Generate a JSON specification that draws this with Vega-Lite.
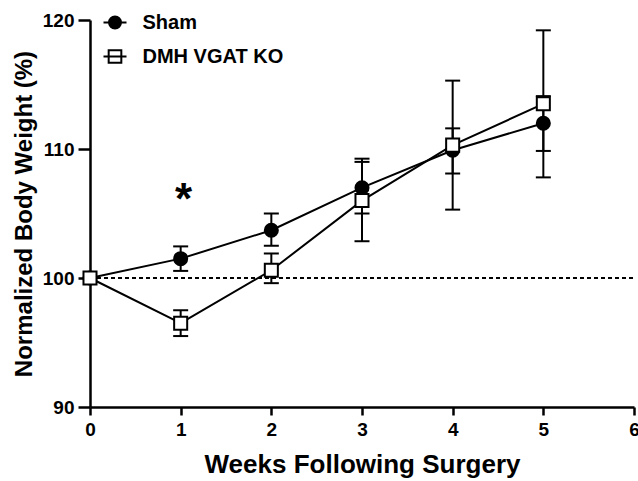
{
  "$schema": "https://vega.github.io/schema/vega-lite/v6.json",
  "width": 544,
  "height": 387,
  "autosize": {"type": "none"},
  "padding": {"left": 90, "top": 20, "right": 4, "bottom": 74},
  "background": "white",
  "config": {
    "view": {"stroke": null},
    "font": "Liberation Sans",
    "axis": {
      "domainColor": "black", "domainWidth": 2.5, "tickColor": "black", "tickWidth": 2.5,
      "labelColor": "black", "labelFont": "Liberation Sans", "labelFontWeight": "bold",
      "labelFontSize": 19, "titleFont": "Liberation Sans", "titleFontWeight": "bold", "titleColor": "black", "grid": false
    },
    "axisY": {"tickSize": 12, "labelPadding": 4, "titlePadding": 6, "titleFontSize": 24},
    "axisX": {"tickSize": 8, "labelPadding": 5, "titlePadding": 12, "titleFontSize": 26},
    "legend": {"labelFont": "Liberation Sans", "labelFontWeight": "bold", "labelFontSize": 20, "labelColor": "black"}
  },
  "data": {
    "values": [
      {"week": 0, "group": "Sham", "mean": 100, "lo": null, "hi": null},
      {"week": 1, "group": "Sham", "mean": 101.5, "lo": 100.55, "hi": 102.45},
      {"week": 2, "group": "Sham", "mean": 103.7, "lo": 102.5, "hi": 105.0},
      {"week": 3, "group": "Sham", "mean": 107.0, "lo": 105.0, "hi": 109.0},
      {"week": 4, "group": "Sham", "mean": 109.9, "lo": 108.1, "hi": 111.6},
      {"week": 5, "group": "Sham", "mean": 112.0, "lo": 109.85, "hi": 114.1},
      {"week": 0, "group": "DMH VGAT KO", "mean": 100, "lo": null, "hi": null},
      {"week": 1, "group": "DMH VGAT KO", "mean": 96.5, "lo": 95.5, "hi": 97.5},
      {"week": 2, "group": "DMH VGAT KO", "mean": 100.6, "lo": 99.6, "hi": 101.9},
      {"week": 3, "group": "DMH VGAT KO", "mean": 106.0, "lo": 102.85, "hi": 109.25},
      {"week": 4, "group": "DMH VGAT KO", "mean": 110.3, "lo": 105.3, "hi": 115.3},
      {"week": 5, "group": "DMH VGAT KO", "mean": 113.5, "lo": 107.8, "hi": 119.2}
    ]
  },
  "encoding": {
    "x": {"field": "week", "type": "quantitative",
      "scale": {"domain": [0, 6], "nice": false, "zero": false},
      "axis": {"values": [0, 1, 2, 3, 4, 5, 6], "title": "Weeks Following Surgery", "labelFlush": false}}
  },
  "layer": [
    {
      "mark": {"type": "rule", "color": "black", "strokeWidth": 1, "strokeDash": [4, 3]},
      "encoding": {"x": {"datum": 0}, "x2": {"datum": 6}, "y": {"datum": 100}}
    },
    {
      "transform": [{"filter": "datum.lo != null"}],
      "mark": {"type": "rule", "color": "black", "strokeWidth": 2},
      "encoding": {"y": {"field": "lo", "type": "quantitative"}, "y2": {"field": "hi"}}
    },
    {
      "transform": [{"filter": "datum.lo != null"}],
      "mark": {"type": "tick", "orient": "horizontal", "color": "black", "size": 15, "thickness": 2, "opacity": 1},
      "encoding": {"y": {"field": "lo", "type": "quantitative"}}
    },
    {
      "transform": [{"filter": "datum.hi != null"}],
      "mark": {"type": "tick", "orient": "horizontal", "color": "black", "size": 15, "thickness": 2, "opacity": 1},
      "encoding": {"y": {"field": "hi", "type": "quantitative"}}
    },
    {
      "mark": {"type": "line", "color": "black", "strokeWidth": 2},
      "encoding": {
        "y": {"field": "mean", "type": "quantitative",
          "scale": {"domain": [90, 120], "nice": false, "zero": false},
          "axis": {"values": [90, 100, 110, 120], "title": "Normalized Body Weight (%)"}},
        "detail": {"field": "group"}
      }
    },
    {
      "mark": {"type": "point", "filled": true, "stroke": "black", "strokeWidth": 2, "opacity": 1, "size": 170},
      "encoding": {
        "y": {"field": "mean", "type": "quantitative"},
        "shape": {"field": "group", "type": "nominal",
          "scale": {"domain": ["DMH VGAT KO", "Sham"], "range": ["square", "circle"]},
          "legend": null},
        "fill": {"field": "group", "type": "nominal",
          "scale": {"domain": ["Sham", "DMH VGAT KO"], "range": ["black", "white"]},
          "legend": {
            "title": null, "orient": "top-left", "offset": -10.5, "padding": 0,
            "symbolSize": 529, "symbolOffset": 22.5,
            "labelOffset": 15, "rowPadding": 11,
            "encoding": {"symbols": {
              "shape": {"value": {"expr": "datum.value === 'Sham' ? 'M-1,0L1,0M0.52,0A0.52,0.52,0,1,1,-0.52,0A0.52,0.52,0,1,1,0.52,0Z' : 'M-1,0L1,0M-0.55,-0.55H0.55V0.55H-0.55Z'"}},
              "stroke": {"value": "black"},
              "strokeWidth": {"value": 2}
            }}
          }}
      }
    },
    {
      "data": {"values": [{"week": 1, "y": 105.0, "label": "*"}]},
      "mark": {"type": "text", "font": "Liberation Sans", "fontWeight": "bold", "fontSize": 44, "color": "black", "baseline": "alphabetic", "dx": 3},
      "encoding": {"y": {"field": "y", "type": "quantitative"}, "text": {"field": "label"}}
    }
  ]
}
